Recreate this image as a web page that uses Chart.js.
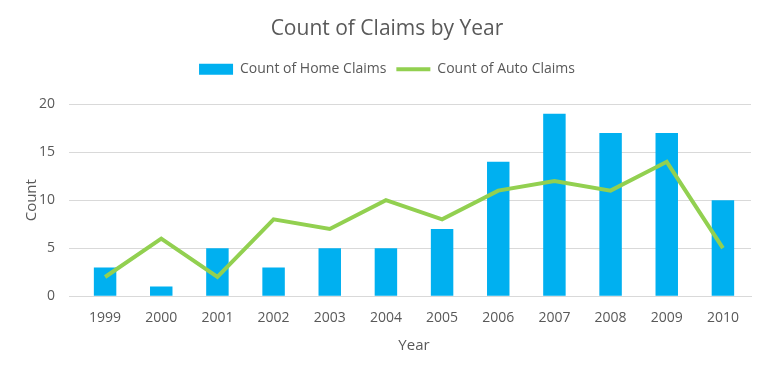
<!DOCTYPE html>
<html>
<head>
<meta charset="utf-8">
<script src="https://cdn.jsdelivr.net/npm/chart.js@4/dist/chart.umd.min.js"></script>
<style>
    html, body { margin: 0; padding: 0; background: #fff; }
    #marco { width: 768px; height: 372px; }
</style>
</head>
<body>
<div id="marco"><canvas id="grafico"></canvas></div>
<script>
const anios = ["1999", "2000", "2001", "2002", "2003", "2004", "2005", "2006", "2007", "2008", "2009", "2010"];
const reclamosHogar = [3, 1, 5, 3, 5, 5, 7, 14, 19, 17, 17, 10];
const reclamosAuto = [2, 6, 2, 8, 7, 10, 8, 11, 12, 11, 14, 5];

const FUENTE = "'Open Sans', 'Noto Sans', sans-serif";
const GRIS = "#595959";

// espacio extra bajo la leyenda
const espacioLeyenda = {
    id: "espacioLeyenda",
    beforeInit(chart) {
        const fitOriginal = chart.legend.fit;
        chart.legend.fit = function () {
            fitOriginal.bind(chart.legend)();
            this.height += 18;
        };
    },
};

new Chart(document.getElementById("grafico"), {
    data: {
        labels: anios,
        datasets: [
            {
                type: "bar", label: "Count of Home Claims", data: reclamosHogar,
                backgroundColor: "#00b0f0", barPercentage: 0.8, categoryPercentage: 0.5,
                pointStyle: "rect", order: 2,
            },
            {
                type: "line", label: "Count of Auto Claims", data: reclamosAuto,
                borderColor: "#92d050", backgroundColor: "#92d050", borderWidth: 4,
                pointRadius: 0, pointStyle: "line", tension: 0, order: 1,
            },
        ],
    },
    options: {
        responsive: true, maintainAspectRatio: false, animation: false,
        layout: { padding: { left: 23, right: 17, top: 8, bottom: 13 } },
        plugins: {
            title: {
                display: true, text: "Count of Claims by Year", color: GRIS,
                font: { family: FUENTE, size: 21, weight: "normal" }, padding: { top: 8, bottom: 11 },
            },
            legend: {
                position: "top",
                labels: {
                    usePointStyle: true, pointStyleWidth: 34, boxHeight: 11,
                    color: GRIS, font: { family: FUENTE, size: 14 }, padding: 10,
                    sort: (a, b) => a.datasetIndex - b.datasetIndex,
                },
            },
            tooltip: { enabled: false },
        },
        scales: {
            x: {
                grid: { display: false },
                border: { color: "#d9d9d9" },
                ticks: { color: GRIS, font: { family: FUENTE, size: 14 }, padding: 5 },
                title: { display: true, text: "Year", color: GRIS, font: { family: FUENTE, size: 15 }, padding: { top: 6 } },
            },
            y: {
                min: 0, max: 20,
                afterFit(escala) { escala.width = 54; },
                grid: { color: "#d9d9d9", lineWidth: 1 },
                border: { display: false },
                ticks: { stepSize: 5, color: GRIS, font: { family: FUENTE, size: 14 }, padding: 14 },
                title: { display: true, text: "Count", color: GRIS, font: { family: FUENTE, size: 15 }, padding: { top: 0, bottom: 0 } },
            },
        },
    },
    plugins: [espacioLeyenda],
});
</script>
</body>
</html>
